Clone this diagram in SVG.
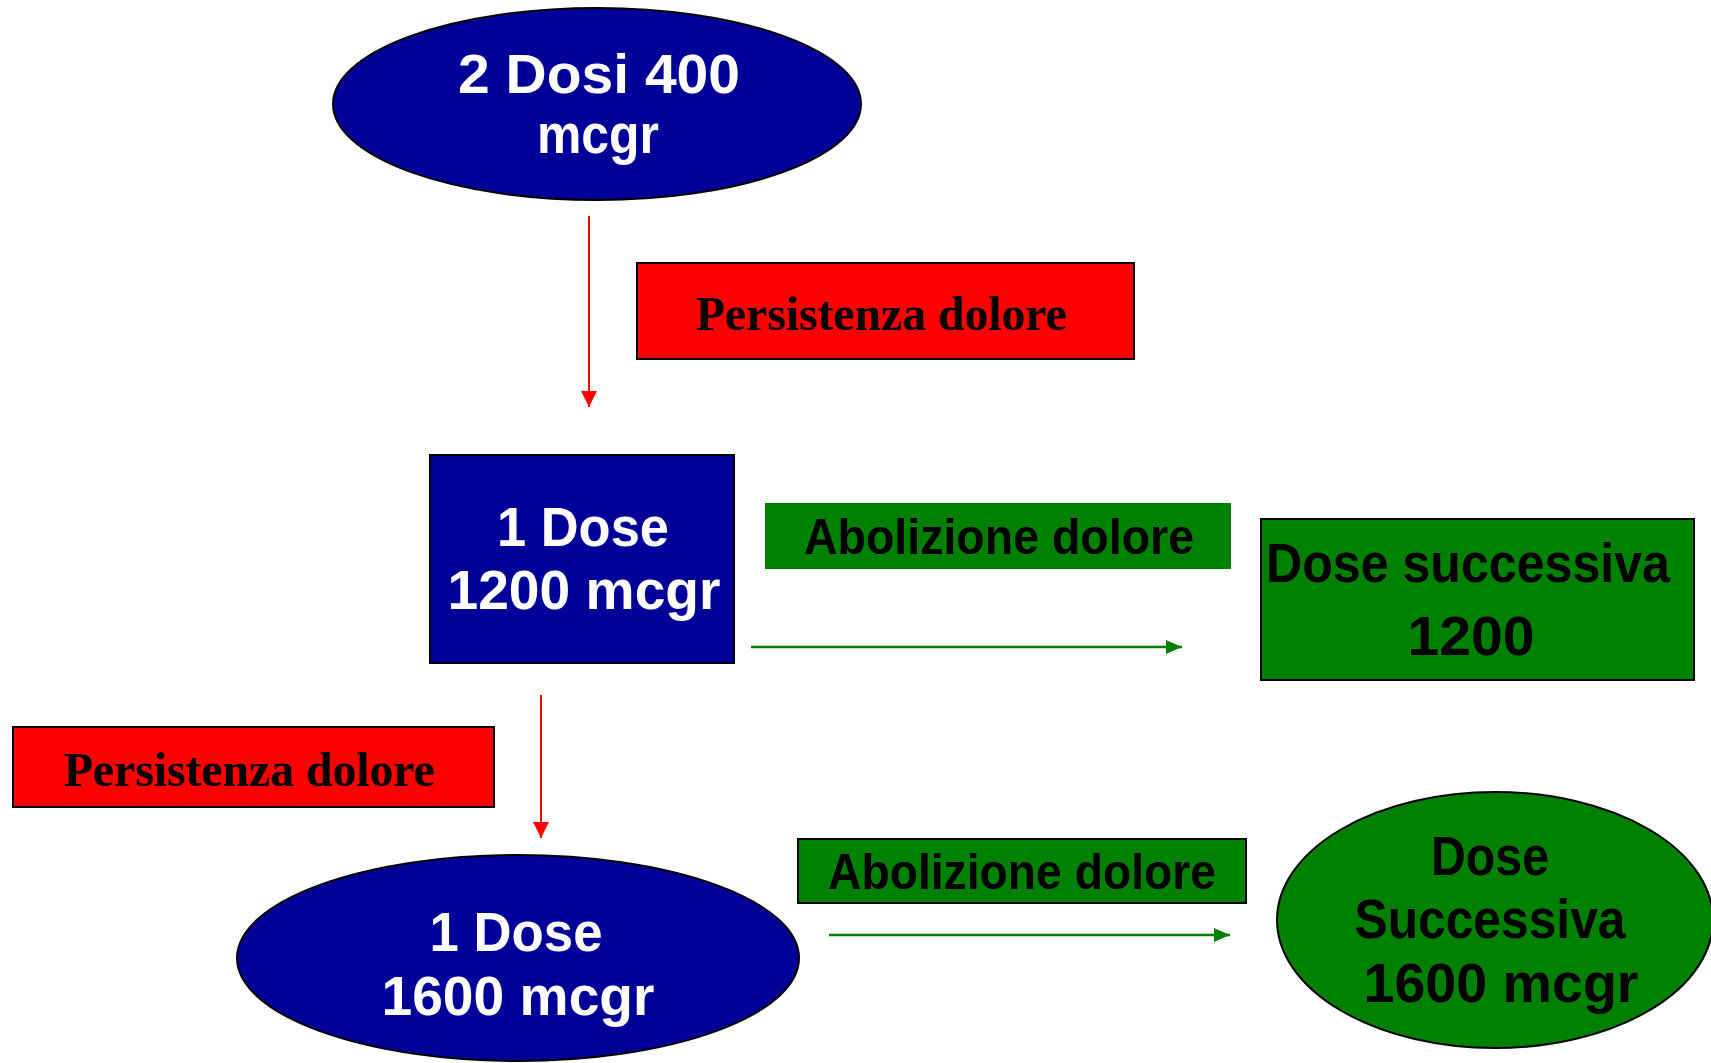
<svg xmlns="http://www.w3.org/2000/svg" width="1711" height="1063" viewBox="0 0 1711 1063">
<style>
.blue{fill:#000099;stroke:#000;stroke-width:2}
.red{fill:#FF0000;stroke:#000;stroke-width:2}
.grn{fill:#008000;stroke:#000;stroke-width:2}
.grnb{fill:#008000}
.ct{font-family:"Liberation Sans",Arial,sans-serif;font-weight:bold;font-size:55px;text-anchor:middle}
.w{fill:#fff}
.k{fill:#000}
.tr{font-family:"Liberation Serif","Times New Roman",serif;font-weight:bold;font-size:48px;text-anchor:middle;fill:#000}
.rl{stroke:#FF0000;stroke-width:2;fill:none}
.gl{stroke:#008000;stroke-width:2.5;fill:none}
</style>
<defs>
<marker id="ar" viewBox="0 0 10 10" refX="10" refY="5" markerWidth="16" markerHeight="16" markerUnits="userSpaceOnUse" orient="auto"><path d="M0,0 L10,5 L0,10 Z" fill="#FF0000"/></marker>
<marker id="ag" viewBox="0 0 10 10" refX="10" refY="5" markerWidth="16" markerHeight="14" markerUnits="userSpaceOnUse" orient="auto" preserveAspectRatio="none"><path d="M0,0 L10,5 L0,10 Z" fill="#008000"/></marker>
</defs>
<rect width="1711" height="1063" fill="#fff"/>
<g id="connectors">
<line class="rl" x1="589" y1="216" x2="589" y2="407" marker-end="url(#ar)"/>
<line class="rl" x1="541" y1="695" x2="541" y2="838" marker-end="url(#ar)"/>
<line class="gl" x1="751" y1="647" x2="1182" y2="647" marker-end="url(#ag)"/>
<line class="gl" x1="829" y1="935" x2="1230" y2="935" marker-end="url(#ag)"/>
</g>
<g id="n-top">
<ellipse class="blue" cx="597" cy="104" rx="264" ry="96"/>
<text class="ct w" x="599" y="93" textLength="282" lengthAdjust="spacingAndGlyphs">2 Dosi 400</text>
<text class="ct w" x="598" y="153" textLength="122" lengthAdjust="spacingAndGlyphs">mcgr</text>
</g>
<g id="n-persist1">
<rect class="red" x="637" y="263" width="497" height="96"/>
<text class="tr" x="881" y="330" textLength="371" lengthAdjust="spacingAndGlyphs">Persistenza dolore</text>
</g>
<g id="n-dose1200">
<rect class="blue" x="430" y="455" width="304" height="208"/>
<text class="ct w" x="583" y="546" textLength="172" lengthAdjust="spacingAndGlyphs">1 Dose</text>
<text class="ct w" x="584" y="609" textLength="273" lengthAdjust="spacingAndGlyphs">1200 mcgr</text>
</g>
<g id="n-abol1">
<rect class="grnb" x="765" y="503" width="466" height="66"/>
<text class="ct k" x="999" y="554" style="font-size:50px" textLength="390" lengthAdjust="spacingAndGlyphs">Abolizione dolore</text>
</g>
<g id="n-succ1200">
<rect class="grn" x="1261" y="519" width="433" height="161"/>
<text class="ct k" x="1468" y="582" textLength="404" lengthAdjust="spacingAndGlyphs">Dose successiva</text>
<text class="ct k" x="1471" y="655" textLength="127" lengthAdjust="spacingAndGlyphs">1200</text>
</g>
<g id="n-persist2">
<rect class="red" x="13" y="727" width="481" height="80"/>
<text class="tr" x="249" y="786" textLength="371" lengthAdjust="spacingAndGlyphs">Persistenza dolore</text>
</g>
<g id="n-dose1600">
<ellipse class="blue" cx="518" cy="958" rx="281" ry="103"/>
<text class="ct w" x="516" y="951" textLength="173" lengthAdjust="spacingAndGlyphs">1 Dose</text>
<text class="ct w" x="518" y="1015" textLength="273" lengthAdjust="spacingAndGlyphs">1600 mcgr</text>
</g>
<g id="n-abol2">
<rect class="grn" x="798" y="839" width="448" height="64"/>
<text class="ct k" x="1022" y="889" style="font-size:50px" textLength="388" lengthAdjust="spacingAndGlyphs">Abolizione dolore</text>
</g>
<g id="n-succ1600">
<ellipse class="grn" cx="1495" cy="920" rx="218" ry="128"/>
<text class="ct k" x="1490" y="875" textLength="118" lengthAdjust="spacingAndGlyphs">Dose</text>
<text class="ct k" x="1490" y="938" textLength="271" lengthAdjust="spacingAndGlyphs">Successiva</text>
<text class="ct k" x="1501" y="1002" textLength="275" lengthAdjust="spacingAndGlyphs">1600 mcgr</text>
</g>
</svg>
